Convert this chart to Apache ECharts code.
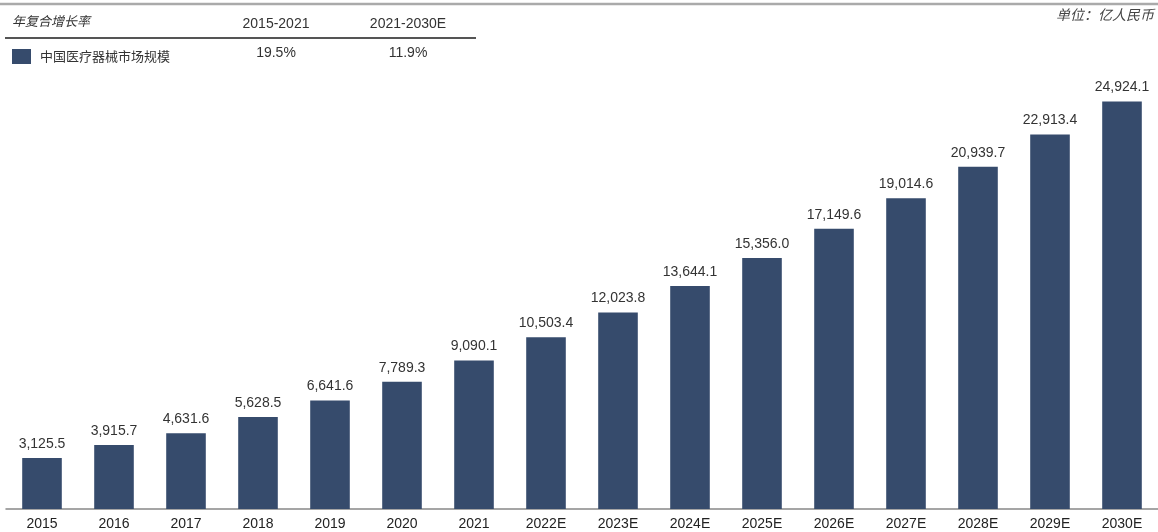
<!DOCTYPE html>
<html>
<head>
<meta charset="utf-8">
<script src="https://cdn.jsdelivr.net/npm/echarts@6/dist/echarts.min.js"></script>
<style>
html,body{margin:0;padding:0;background:#fff;}
#main{width:1158px;height:532px;}
</style>
</head>
<body>
<div id="main"></div>
<script>
var years=['2015','2016','2017','2018','2019','2020','2021','2022E','2023E','2024E','2025E','2026E','2027E','2028E','2029E','2030E'];
var marketSize=[3125.5,3915.7,4631.6,5628.5,6641.6,7789.3,9090.1,10503.4,12023.8,13644.1,15356.0,17149.6,19014.6,20939.7,22913.4,24924.1];
var cagrPeriods=['2015-2021','2021-2030E'];
var cagrValues=['19.5%','11.9%'];
var seriesName='中国医疗器械市场规模';

var chart=echarts.init(document.getElementById('main'));
var font='"Liberation Sans", Arial, sans-serif';
var cjk='"Noto Sans CJK SC", sans-serif';

function fmt(v){
	return v.toLocaleString('en-US',{minimumFractionDigits:1,maximumFractionDigits:1});
}

var option={
	backgroundColor:'#fff',
	animation:false,
	legend:{
		left:7,
		top:44,
		itemWidth:19,
		itemHeight:15,
		icon:'rect',
		textStyle:{color:'#333',fontSize:13,fontFamily:cjk,padding:[0,0,0,4]},
		data:[seriesName]
	},
	grid:{left:6,right:-3,top:84,bottom:23,containLabel:false},
	xAxis:{
		type:'category',
		data:years,
		axisLine:{lineStyle:{color:'#888',width:1.5}},
		axisTick:{show:false},
		axisLabel:{color:'#222',fontSize:14,fontFamily:font,margin:8}
	},
	yAxis:{
		type:'value',
		min:0,
		max:26000,
		show:false,
		splitLine:{show:false}
	},
	graphic:[
		{type:'line',shape:{x1:0,y1:4,x2:1158,y2:4},style:{stroke:'#aaa',lineWidth:2.5}},
		{type:'line',shape:{x1:5,y1:38,x2:476,y2:38},style:{stroke:'#555',lineWidth:2}},
		{type:'text',left:12,top:15,style:{text:'年复合增长率',fill:'#333',font:'italic 13px '+cjk}},
		{type:'text',x:276,y:24,style:{text:cagrPeriods[0],fill:'#333',font:'14px '+font,align:'center',verticalAlign:'middle'}},
		{type:'text',x:408,y:24,style:{text:cagrPeriods[1],fill:'#333',font:'14px '+font,align:'center',verticalAlign:'middle'}},
		{type:'text',x:276,y:53,style:{text:cagrValues[0],fill:'#333',font:'14px '+font,align:'center',verticalAlign:'middle'}},
		{type:'text',x:408,y:53,style:{text:cagrValues[1],fill:'#333',font:'14px '+font,align:'center',verticalAlign:'middle'}},
		{type:'text',right:4,top:8,style:{text:'单位：亿人民币',fill:'#444',font:'italic 14px '+cjk}}
	],
	series:[{
		name:seriesName,
		type:'bar',
		data:marketSize,
		barWidth:'55%',
		itemStyle:{color:'#364B6C'},
		label:{
			show:true,
			position:'top',
			distance:7,
			color:'#333',
			fontSize:14,
			fontFamily:font,
			formatter:function(p){return fmt(p.value);}
		}
	}]
};
chart.setOption(option);
window.addEventListener('resize',function(){
	chart.resize();
});
</script>
</body>
</html>
